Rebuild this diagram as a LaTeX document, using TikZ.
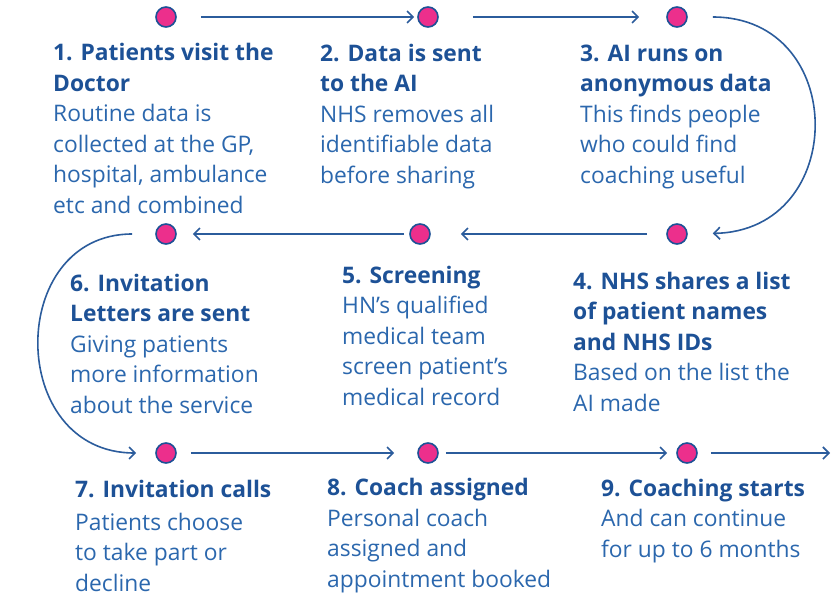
\documentclass[tikz,border=0pt]{standalone}
\usepackage{fontspec}
\setmainfont{Open Sans}
\usetikzlibrary{arrows.meta}
\definecolor{headc}{HTML}{1D5196}
\definecolor{bodyc}{HTML}{2B67AD}
\definecolor{linec}{HTML}{2B5C9C}
\definecolor{dotc}{HTML}{EC2F8C}
\tikzset{
  dot/.style={circle, minimum size=20pt, inner sep=0pt, fill=dotc, draw=headc, line width=1.6pt},
  arr/.style={draw=linec, line width=1.6pt, -{Straight Barb[length=6pt,width=12pt]}},
  txt/.style={anchor=base west, inner sep=0pt, align=left, font=\fontsize{22.8}{30.5}\selectfont, text=bodyc}
}
\newcommand{\hd}[1]{{\bfseries\color{headc}#1}}
\begin{document}
\begin{tikzpicture}[x=1pt,y=-1pt]
\useasboundingbox (0,0) rectangle (832,595);
% dots
\node[dot] (d1) at (166,17) {};
\node[dot] (d2) at (428,17) {};
\node[dot] (d3) at (677,17) {};
\node[dot] (d4) at (677,234) {};
\node[dot] (d5) at (420,234) {};
\node[dot] (d6) at (166,234) {};
\node[dot] (d7) at (166,453) {};
\node[dot] (d8) at (428,453) {};
\node[dot] (d9) at (687,453) {};
\coordinate (out) at (830,453);
% arrows
\draw[arr, shorten <=24pt, shorten >=3pt] (d1) -- (d2);
\draw[arr, shorten <=34pt, shorten >=27pt] (d2) -- (d3);
\draw[arr, shorten <=25pt, shorten >=25pt] (d3) .. controls (849,17) and (849,231) .. (d4);
\draw[arr, shorten <=19pt, shorten >=30pt] (d4) -- (d5);
\draw[arr, shorten <=5pt, shorten >=16pt] (d5) -- (d6);
\draw[arr, shorten <=23pt, shorten >=19pt] (d6) .. controls (6,234) and (6,453) .. (d7);
\draw[arr, shorten <=14pt, shorten >=23pt] (d7) -- (d8);
\draw[arr, shorten <=7pt, shorten >=9pt] (d8) -- (d9);
\draw[arr, shorten <=13pt] (d9) -- (out);
% texts (anchored at baseline of last line)
\node[txt] (t1) at (53,213) {\hd{1. Patients visit the}\\\hd{Doctor}\\Routine data is\\collected at the GP,\\hospital, ambulance\\etc and combined};
\node[txt] (t2) at (320,183) {\hd{2. Data is sent}\\\hd{to the AI}\\NHS removes all\\identifiable data\\before sharing};
\node[txt] (t3) at (580,183) {\hd{3. AI runs on}\\\hd{anonymous data}\\This finds people\\who could find\\coaching useful};
\node[txt] (t6) at (70,413) {\hd{6. Invitation}\\\hd{Letters are sent}\\Giving patients\\more information\\about the service};
\node[txt] (t5) at (342,405) {\hd{5. Screening}\\HN’s qualified\\medical team\\screen patient's\\medical record};
\node[txt] (t4) at (573,411) {\hd{4. NHS shares a list}\\\hd{of patient names}\\\hd{and NHS IDs}\\Based on the list the\\AI made};
\node[txt] (t7) at (75,591) {\hd{7. Invitation calls}\\[2pt]Patients choose\\to take part or\\decline};
\node[txt] (t8) at (327,587) {\hd{8. Coach assigned}\\Personal coach\\assigned and\\appointment booked};
\node[txt] (t9) at (601,557) {\hd{9. Coaching starts}\\And can continue\\for up to 6 months};
\end{tikzpicture}
\end{document}
